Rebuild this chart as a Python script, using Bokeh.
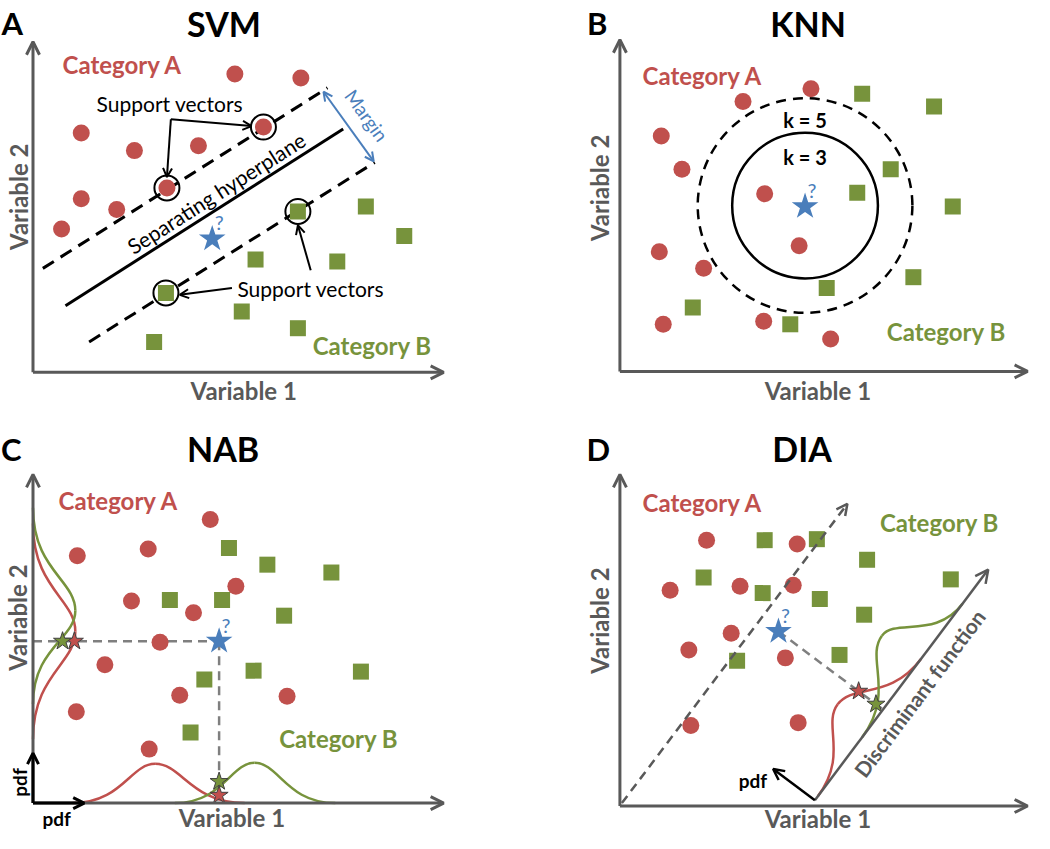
import math
from bokeh.plotting import figure
from bokeh.layouts import column, row
from bokeh.models import Range1d, Arrow, OpenHead
from bokeh.core.properties import value
from bokeh.embed import file_html
from bokeh.resources import INLINE

RED = "#C0504D"
GREEN = "#77933C"
BLUE = "#4A7EBB"
GRAY = "#595959"
DGRAY = "#7F7F7F"
FONT = "Lato"

# ---------------- data ----------------
# Panel A : SVM
svm_red_x = [205, 272, 49, 103, 168, 234, 136, 49, 85, 29]
svm_red_y = [304, 300, 244, 226, 231, 250, 188, 177, 166, 146]
svm_green_x = [338, 377, 269, 226, 309, 135, 212, 269, 123]
svm_green_y = [169, 139, 164, 115, 113, 81, 62, 45, 31]
svm_sv_x = [234, 136, 269, 135]
svm_sv_y = [250, 188, 164, 81]
svm_query_x = [182]
svm_query_y = [136]
svm_upper_x = [10, 299]
svm_upper_y = [106, 290]
svm_plane_x = [33, 315]
svm_plane_y = [68, 248]
svm_lower_x = [57, 347]
svm_lower_y = [31, 214]

# Panel B : KNN
knn_red_x = [194, 125, 42, 63, 147, 182, 40, 85, 44, 146, 214]
knn_red_y = [288, 275, 240, 206, 181, 128, 122, 105, 48, 51, 33]
knn_green_x = [246, 319, 275, 241, 338, 298, 210, 74, 173]
knn_green_y = [283, 270, 206, 182, 168, 96, 85, 65, 48]
knn_query_x = [188]
knn_query_y = [168]
knn_k = ["k = 3", "k = 5"]
knn_radius = [74, 109]

# Panel C : NAB
nab_red_x = [180, 117, 45, 206, 100, 163, 129, 73, 149, 258, 44, 118]
nab_red_y = [289, 259, 252, 221, 206, 194, 164, 141, 110, 109, 93, 55]
nab_green_x = [199, 238, 303, 139, 192, 255, 224, 333, 174, 160]
nab_green_y = [260, 243, 235, 207, 207, 191, 135, 134, 126, 72]
nab_query_x = [189]
nab_query_y = [165]
# pdf bumps: [start, peak, end, height]
nab_pdf1_red = [40, 124, 215, 40]
nab_pdf1_green = [144, 225, 307, 41]
nab_pdf2_red = [65, 175, 285, 43]
nab_pdf2_green = [101, 196, 301, 43]
nab_pdf1_at_query = [8, 22]   # red, green
nab_pdf2_at_query = [42, 30]  # red, green

# Panel D : DIA
dia_red_x = [88, 180, 51, 122, 176, 113, 70, 168, 72, 181]
dia_red_y = [271, 267, 220, 224, 225, 176, 159, 151, 82, 85]
dia_green_x = [147, 200, 251, 85, 145, 203, 336, 248, 223, 119]
dia_green_y = [271, 272, 251, 233, 217, 211, 231, 195, 154, 148]
dia_query_x = [161]
dia_query_y = [178]
dia_proj_x = [2, 231]
dia_proj_y = [3, 308]
dia_disc_x = [198, 374]
dia_disc_y = [6, 241]
dia_pdf_red = [5, 92, 180, 40]
dia_pdf_green = [80, 175, 250, 46]
dia_pdf_at_query = [31, 9]  # red, green


# ---------------- helpers ----------------
def make_fig(xr, yr, w, h):
    p = figure(width=w, height=h, x_range=Range1d(*xr), y_range=Range1d(*yr),
               output_backend="svg", toolbar_location=None, min_border=0,
               x_axis_location=None, y_axis_location=None, title=None)
    p.grid.visible = False
    p.outline_line_color = None
    return p


def txt(p, x, y, s, size, color, bold=False, angle=0.0, align="center"):
    p.text(x=[x], y=[y], text=[s], text_font=value(FONT), text_font_size=f"{size}px",
           text_color=color, text_font_style="bold" if bold else "normal",
           angle=angle, text_align=align, text_baseline="middle")


def arrow(p, xs, ys, color, width, size=11, dash="solid", both=False):
    head = lambda: OpenHead(size=size, line_color=color, line_width=width)
    a = Arrow(end=head(), start=head() if both else None,
              x_start=xs[0], y_start=ys[0], x_end=xs[1], y_end=ys[1],
              line_color=color, line_width=width, line_dash=dash)
    p.add_layout(a)


def axes(p, xlen, ylen):
    arrow(p, [0, 0], [0, ylen], GRAY, 3, 13)
    arrow(p, [0, xlen], [0, 0], GRAY, 3, 13)


def header(p, letter, title, lx, tx, y):
    txt(p, lx, y, letter, 31, "black", True)
    txt(p, tx, y, title, 34, "black", True)


def var_labels(p, v2, v1):
    txt(p, v2[0], v2[1], "Variable 2", 24, GRAY, True, math.pi / 2)
    txt(p, v1[0], v1[1], "Variable 1", 24, GRAY, True)


def dots(p, rx, ry, gx, gy):
    p.scatter(rx, ry, marker="circle", size=17, fill_color=RED, line_color=None)
    p.scatter(gx, gy, marker="square", size=16, fill_color=GREEN, line_color=None)


def query(p, qx, qy):
    p.scatter(qx, qy, marker="star", size=28, fill_color=BLUE, line_color=None)
    txt(p, qx[0] + 7, qy[0] + 17, "?", 20, BLUE)


def bump(p, spec, to_xy, color):
    t0, tp, t1, a = spec
    segs = [((t0, 0), (t0 + 0.6 * (tp - t0), 0), (t0 + 0.7 * (tp - t0), a), (tp, a)),
            ((tp, a), (tp + 0.3 * (t1 - tp), a), (tp + 0.4 * (t1 - tp), 0), (t1, 0))]
    for P0, C0, C1, P1 in segs:
        x0, y0 = to_xy(*P0)
        cx0, cy0 = to_xy(*C0)
        cx1, cy1 = to_xy(*C1)
        x1, y1 = to_xy(*P1)
        p.bezier(x0=[x0], y0=[y0], x1=[x1], y1=[y1], cx0=[cx0], cy0=[cy0],
                 cx1=[cx1], cy1=[cy1], line_color=color, line_width=2.5)


def small_star(p, x, y, color):
    p.scatter(x, y, marker="star", size=19, fill_color=color, line_color="#404040",
              line_width=1)


# ---------------- Panel A ----------------
pA = make_fig((-33, 492), (-46, 379), 517, 417)
axes(pA, 417, 337)
header(pA, "A", "SVM", -21, 194, 356)
var_labels(pA, (-15, 179), (214, -18))
txt(pA, 30, 314, "Category A", 24, RED, True, align="left")
txt(pA, 284, 27, "Category B", 24, GREEN, True, align="left")
pA.line(svm_upper_x, svm_upper_y, line_color="black", line_width=3, line_dash="13 8")
pA.line(svm_lower_x, svm_lower_y, line_color="black", line_width=3, line_dash="13 8")
pA.line(svm_plane_x, svm_plane_y, line_color="black", line_width=3)
dots(pA, svm_red_x, svm_red_y, svm_green_x, svm_green_y)
pA.scatter(svm_sv_x, svm_sv_y, marker="circle", size=25, fill_color=None,
           line_color="black", line_width=2)
query(pA, svm_query_x, svm_query_y)
txt(pA, 186, 183, "Separating hyperplane", 21, "black", angle=math.radians(32.5))
txt(pA, 139, 274, "Support vectors", 21, "black")
txt(pA, 282, 85, "Support vectors", 21, "black")
arrow(pA, [140, 222], [258, 251], "black", 2, 9)
arrow(pA, [140, 136], [258, 199], "black", 2, 9)
arrow(pA, [202, 149], [86, 79], "black", 2, 9)
arrow(pA, [282, 269], [104, 150], "black", 2, 9)
arrow(pA, [295, 346], [286, 215], BLUE, 2, 9, both=True)
txt(pA, 339, 262, "Margin", 19, BLUE, angle=math.radians(-54))

# ---------------- Panel B ----------------
pB = make_fig((-104, 421), (-47, 378), 517, 417)
axes(pB, 414, 338)
header(pB, "B", "KNN", -23, 191, 355)
var_labels(pB, (-21, 187), (201, -19))
txt(pB, 23, 302, "Category A", 24, RED, True, align="left")
txt(pB, 271, 41, "Category B", 24, GREEN, True, align="left")
pB.circle(x=[knn_query_x[0]], y=[knn_query_y[0] + 1], radius=knn_radius[0],
          fill_color=None, line_color="black", line_width=2.5)
pB.circle(x=[knn_query_x[0]], y=[knn_query_y[0] + 1], radius=knn_radius[1],
          fill_color=None, line_color="black", line_width=2.5, line_dash="10 7")
dots(pB, knn_red_x, knn_red_y, knn_green_x, knn_green_y)
query(pB, knn_query_x, knn_query_y)
txt(pB, 188, 219, knn_k[0], 20, "black", True)
txt(pB, 188, 256, knn_k[1], 20, "black", True)

# ---------------- Panel C ----------------
pC = make_fig((-33, 492), (-31, 393), 517, 416)
axes(pC, 417, 335)
header(pC, "C", "NAB", -22, 193, 361)
var_labels(pC, (-16, 189), (202, -15))
txt(pC, 26, 308, "Category A", 24, RED, True, align="left")
txt(pC, 250, 66, "Category B", 24, GREEN, True, align="left")
qx, qy = nab_query_x[0], nab_query_y[0]
pC.line([0, qx], [qy, qy], line_color=DGRAY, line_width=2.5, line_dash="9 6")
pC.line([qx, qx], [qy, 0], line_color=DGRAY, line_width=2.5, line_dash="9 6")
bump(pC, nab_pdf2_red, lambda t, h: (h, t), RED)
bump(pC, nab_pdf2_green, lambda t, h: (h, t), GREEN)
bump(pC, nab_pdf1_red, lambda t, h: (t, h), RED)
bump(pC, nab_pdf1_green, lambda t, h: (t, h), GREEN)
arrow(pC, [0, 0], [0, 51], "black", 3, 11)
arrow(pC, [0, 52], [0, 0], "black", 3, 11)
txt(pC, -14, 21, "pdf", 19, "black", True, math.pi / 2)
txt(pC, 24, -16, "pdf", 19, "black", True)
dots(pC, nab_red_x, nab_red_y, nab_green_x, nab_green_y)
small_star(pC, [nab_pdf2_at_query[0]], [qy], RED)
small_star(pC, [nab_pdf2_at_query[1]], [qy], GREEN)
small_star(pC, [qx], [nab_pdf1_at_query[0]], RED)
small_star(pC, [qx], [nab_pdf1_at_query[1]], GREEN)
query(pC, nab_query_x, nab_query_y)

# ---------------- Panel D ----------------
pD = make_fig((-104, 421), (-28, 396), 517, 416)
axes(pD, 414, 338)
header(pD, "D", "DIA", -22, 185, 364)
var_labels(pD, (-21, 189), (201, -13))
txt(pD, 23, 309, "Category A", 24, RED, True, align="left")
txt(pD, 264, 289, "Category B", 24, GREEN, True, align="left")
arrow(pD, dia_proj_x, dia_proj_y, GRAY, 2.5, 11, dash="9 6")
bx, by = dia_disc_x[0], dia_disc_y[0]
L = math.hypot(dia_disc_x[1] - bx, dia_disc_y[1] - by)
ux, uy = (dia_disc_x[1] - bx) / L, (dia_disc_y[1] - by) / L
nx, ny = -uy, ux
to_d = lambda t, h: (bx + t * ux + h * nx, by + t * uy + h * ny)
tq = (dia_query_x[0] - bx) * ux + (dia_query_y[0] - by) * uy
px0, py0 = to_d(tq, 0)
pD.line([dia_query_x[0], px0], [dia_query_y[0], py0], line_color=DGRAY,
        line_width=2.5, line_dash="9 6")
arrow(pD, dia_disc_x, dia_disc_y, GRAY, 2.5, 13)
arrow(pD, [bx, to_d(0, 53)[0]], [by, to_d(0, 53)[1]], "black", 2.5, 11)
txt(pD, 135, 26, "pdf", 19, "black", True)
bump(pD, dia_pdf_red, to_d, RED)
bump(pD, dia_pdf_green, to_d, GREEN)
dots(pD, dia_red_x, dia_red_y, dia_green_x, dia_green_y)
rs = to_d(tq, dia_pdf_at_query[0])
gs = to_d(tq, dia_pdf_at_query[1])
small_star(pD, [rs[0]], [rs[1]], RED)
small_star(pD, [gs[0]], [gs[1]], GREEN)
query(pD, dia_query_x, dia_query_y)
txt(pD, 304, 115, "Discriminant function", 21, GRAY, True, math.atan2(uy, ux))

layout = column(row(pA, pB), row(pC, pD))
open("out.html", "w").write(file_html(layout, INLINE))
